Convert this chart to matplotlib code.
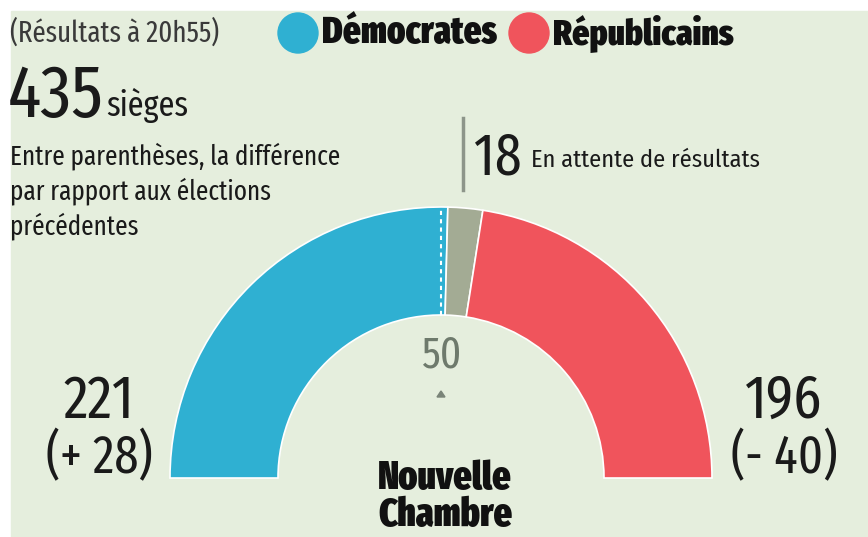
import numpy as np
import matplotlib
matplotlib.use('Agg')
import matplotlib.pyplot as plt
from matplotlib.patches import Wedge, Rectangle, Circle, Polygon

# data
parties = ['Démocrates', 'En attente', 'Républicains']
seats = [221, 18, 196]
changes = ['(+ 28)', None, '(- 40)']
colors = ['#2fb0d2', '#a3ab94', '#f0545c']
total = sum(seats)

W, H = 868, 537
BG = '#e5eedd'
INK = '#1a1a1a'
COND = ['Fira Sans Condensed', 'Roboto Condensed', 'DejaVu Sans']
XCOND = ['Fira Sans Extra Condensed', 'Fira Sans Condensed', 'DejaVu Sans']
plt.rcParams['font.family'] = COND

fig = plt.figure(figsize=(W / 100, H / 100), dpi=100, facecolor='white')
ax = fig.add_axes([0, 0, 1, 1])
ax.set_xlim(0, W)
ax.set_ylim(0, H)
ax.axis('off')


def py(y):
    # pixel from top -> data y
    return H - y


ax.add_patch(Rectangle((11, 0), W - 11, py(11), color=BG, zorder=0))

# semicircle
cx, cy = 441, py(478)
R, r = 271, 163
start = 180.0
for n, col in zip(seats, colors):
    span = n / total * 180.0
    ax.add_patch(Wedge((cx, cy), R, start - span, start, width=R - r,
                       facecolor=col, edgecolor='white', lw=1.2, zorder=2))
    start -= span

# dashed majority line
ax.plot([cx, cx], [cy + r, cy + R], color='white', lw=1.5, ls=(0, (2, 2)), zorder=3)
ax.add_patch(Polygon([[cx - 4, py(397)], [cx + 4, py(397)], [cx, py(391)]],
                     color='#7a8478', zorder=3))
ax.text(cx, py(356), '50', ha='center', va='center', fontsize=32,
        family=XCOND, color='#6e7a6c')

# pending leader
ax.plot([463, 463], [py(118), py(190)], color='#8d958a', lw=2.5, zorder=3)
ax.text(474, py(158), '18', ha='left', va='center', fontsize=42,
        family=XCOND, color=INK)
ax.text(531, py(160), 'En attente de résultats', ha='left', va='center',
        fontsize=17.5, color=INK)

# totals per side
for x, n, ch in [(99, seats[0], changes[0]), (784, seats[2], changes[2])]:
    ax.text(x, py(401), str(n), ha='center', va='center', fontsize=44,
            family=XCOND, color=INK)
    ax.text(x, py(458), ch, ha='center', va='center', fontsize=38,
            family=XCOND, color=INK)

ax.text(cx + 4, py(479), 'Nouvelle', ha='center', va='center', fontsize=28,
        family=XCOND, fontweight='black', color='#111111')
ax.text(cx + 4, py(516), 'Chambre', ha='center', va='center', fontsize=28,
        family=XCOND, fontweight='black', color='#111111')

# header
ax.text(10, py(33), '(Résultats à 20h55)', ha='left', va='center', fontsize=21,
        family=XCOND, color='#3a3a3a')
ax.add_patch(Circle((298, py(33)), 20, color=colors[0], zorder=3))
ax.text(322, py(33), parties[0], ha='left', va='center', fontsize=27,
        family=XCOND, fontweight='black', color='#111111')
ax.add_patch(Circle((529, py(33)), 20, color=colors[2], zorder=3))
ax.text(553, py(33), parties[2], ha='left', va='center', fontsize=26,
        family=XCOND, fontweight='black', color='#111111')

ax.text(8, py(97), str(total), ha='left', va='center', fontsize=54,
        family=XCOND, color=INK)
ax.text(106, py(106), 'sièges', ha='left', va='center', fontsize=25,
        family=XCOND, color=INK)
notes = ['Entre parenthèses, la différence', 'par rapport aux élections', 'précédentes']
for i, line in enumerate(notes):
    ax.text(10, py(156 + 35 * i), line, ha='left', va='center', fontsize=19.7,
            family=XCOND, color=INK)

fig.savefig('out.png', dpi=100, facecolor='white')
